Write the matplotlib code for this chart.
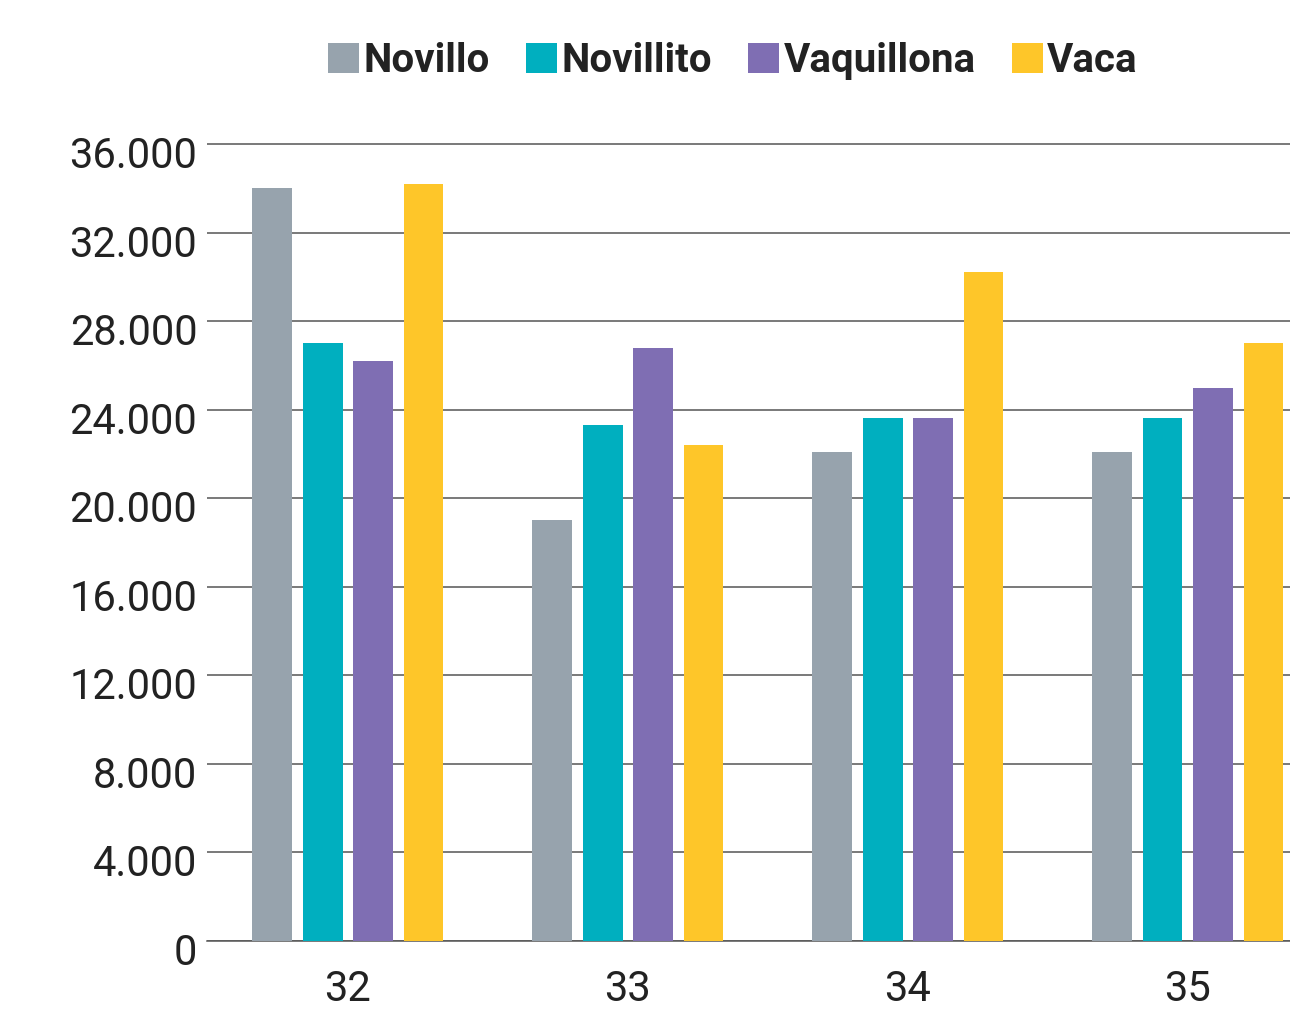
import matplotlib
matplotlib.use("Agg")
import matplotlib.pyplot as plt
import numpy as np
from matplotlib.ticker import FuncFormatter, FixedLocator
from matplotlib.transforms import ScaledTranslation

categories = ["32", "33", "34", "35"]
series_names = ["Novillo", "Novillito", "Vaquillona", "Vaca"]
novillo = [34000, 19000, 22100, 22100]
novillito = [27000, 23300, 23600, 23600]
vaquillona = [26200, 26800, 23600, 25000]
vaca = [34200, 22400, 30200, 27000]
yticks = [0, 4000, 8000, 12000, 16000, 20000, 24000, 28000, 32000, 36000]
colors = ["#97A3AD", "#00AFBF", "#7F6EB3", "#FEC629"]

plt.rcParams['font.family'] = ['Roboto', 'DejaVu Sans']

fig = plt.figure(figsize=(12.9, 10.33), dpi=100)
ax = fig.add_axes([0.1605, 0.0891, 1 - 0.1605, 0.8649 - 0.0891])

x = np.arange(len(categories))
offsets = [-0.27, -0.09, 0.09, 0.27]
width = 0.142
handles = []
for vals, off, col, name in zip([novillo, novillito, vaquillona, vaca], offsets, colors, series_names):
    h = ax.bar(x + off, vals, width=width, color=col, label=name, zorder=3)
    handles.append(h)

ax.set_ylim(0, 36200)
ax.set_xlim(-0.503, 3.365)
ax.yaxis.set_major_locator(FixedLocator(yticks))
ax.yaxis.set_major_formatter(FuncFormatter(lambda v, p: "0" if v == 0 else f"{int(v):,}".replace(",", ".")))
ax.set_xticks(x)
ax.set_xticklabels(categories)
ax.grid(axis='y', color='#555555', linewidth=1.1, zorder=0)
for s in ['top', 'right', 'left']:
    ax.spines[s].set_visible(False)
ax.spines['bottom'].set_color('#555555')
ax.spines['bottom'].set_linewidth(1.1)
ax.tick_params(axis='both', length=0, labelsize=30, colors='#222222')
ax.tick_params(axis='y', pad=7)
ax.tick_params(axis='x', pad=20)

shift = ScaledTranslation(0, -0.08, fig.dpi_scale_trans)
for lab in ax.get_yticklabels():
    lab.set_transform(lab.get_transform() + shift)

fig.legend(handles=handles, labels=series_names, loc='center', bbox_to_anchor=(0.568, 0.941),
           ncol=4, frameon=False, prop={'weight': 'bold', 'size': 29},
           handlelength=0.78, handleheight=0.78, handletextpad=0.1, columnspacing=0.9,
           labelcolor='#222222')

fig.savefig("out.png", dpi=100)
